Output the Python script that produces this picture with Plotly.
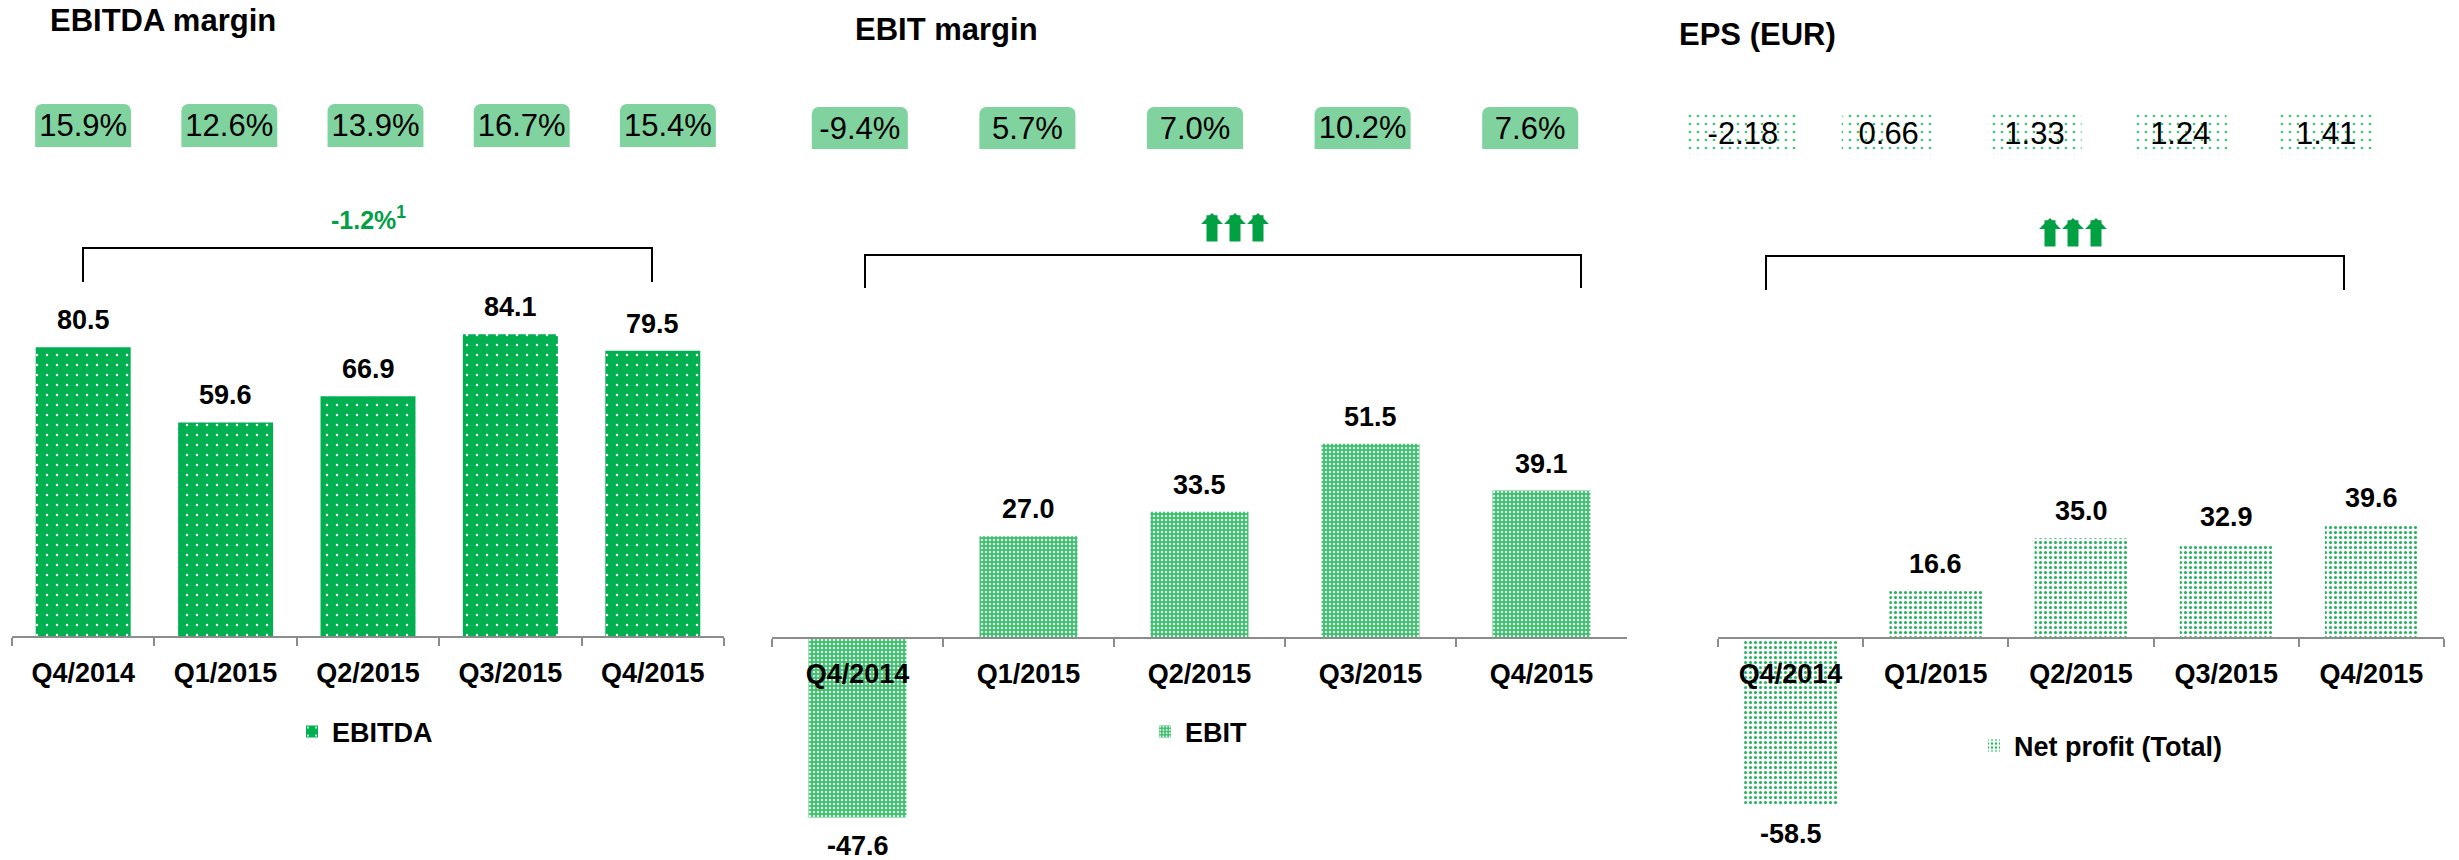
import plotly.graph_objects as go

# ---------------- data ----------------
quarters = ["Q4/2014", "Q1/2015", "Q2/2015", "Q3/2015", "Q4/2015"]
ebitda = [80.5, 59.6, 66.9, 84.1, 79.5]
ebit = [-47.6, 27.0, 33.5, 51.5, 39.1]
net_profit = [-58.5, 16.6, 35.0, 32.9, 39.6]
ebitda_margin = ["15.9%", "12.6%", "13.9%", "16.7%", "15.4%"]
ebit_margin = ["-9.4%", "5.7%", "7.0%", "10.2%", "7.6%"]
eps = ["-2.18", "0.66", "1.33", "1.24", "1.41"]
titles = ["EBITDA margin", "EBIT margin", "EPS (EUR)"]
series_names = ["EBITDA", "EBIT", "Net profit (Total)"]
ebitda_change = "-1.2%<sup>1</sup>"

# ---------------- geometry / style ----------------
W, H = 2459, 860
FONT = "Liberation Sans, Arial, Helvetica, sans-serif"
GREEN_TXT = "#00A043"
AXIS_GREY = "#8C8C8C"
BOX_GREEN = "#80D29F"


def PX(x):
    return x / W


def PY(y):
    return 1 - y / H


panels = [
    dict(values=ebitda, name=series_names[0], title=titles[0], labels=ebitda_margin,
         x0=12, x1=724, zero=637, scale=3.60, top=170, bottom=700, barw=0.667,
         pattern=dict(shape=".", bgcolor="#00B050", fgcolor="#FFFFFF", size=10, solidity=0.05, fgopacity=1),
         color="#00B050",
         box=dict(x0=10, x1=741, y0=104, y1=147, w=[0.656] * 5, pattern=None),
         title_pos=(48, 21), legend_x=292, legend_y=732,
         bracket=(83, 652, 248, 282), arrows=None, change=(368, 218)),
    dict(values=ebit, name=series_names[1], title=titles[1], labels=ebit_margin,
         x0=772, x1=1627, zero=638, scale=3.77, top=170, bottom=860, barw=0.573,
         pattern=dict(shape=".", bgcolor="#3CBF6E", fgcolor="#FFFFFF", size=4, solidity=0.3, fgopacity=0.85),
         color="#3CBF6E",
         box=dict(x0=776, x1=1614, y0=107, y1=149, w=[0.573] * 5, pattern=None),
         title_pos=(853, 29), legend_x=1145, legend_y=732,
         bracket=(865, 1581, 255, 288), arrows=(1235, 213, 243), change=None),
    dict(values=net_profit, name=series_names[2], title=titles[2], labels=eps,
         x0=1718, x1=2444, zero=638, scale=2.85, top=170, bottom=860, barw=0.64,
         pattern=dict(shape=".", bgcolor="#FFFFFF", fgcolor="#22B45E", size=5, solidity=0.3, fgopacity=1),
         color="#FFFFFF",
         box=dict(x0=1670, x1=2399, y0=112, y1=155, w=[0.78, 0.645, 0.645, 0.645, 0.645],
                  pattern=dict(shape=".", bgcolor="#FFFFFF", fgcolor="#3CC475", size=8, solidity=0.09, fgopacity=1)),
         title_pos=(1677, 35), legend_x=1974, legend_y=746,
         bracket=(1766, 2344, 256, 290), arrows=(2073, 218, 248), change=None),
]

fig = go.Figure()
layout = dict(
    width=W, height=H, autosize=False,
    margin=dict(l=0, r=0, t=0, b=0, pad=0),
    paper_bgcolor="white", plot_bgcolor="white",
    hovermode=False, barmode="overlay",
    font=dict(family=FONT, color="black"),
)
annotations = []
shapes = []

for i, p in enumerate(panels):
    n = i + 1
    nb = i + 4
    xa = "x" if n == 1 else f"x{n}"
    ya = "y" if n == 1 else f"y{n}"
    xb, yb = f"x{nb}", f"y{nb}"
    legend_id = "legend" if n == 1 else f"legend{n}"

    # main bars
    fig.add_trace(go.Bar(
        x=quarters, y=p["values"], name=p["name"], xaxis=xa, yaxis=ya,
        width=p["barw"], legend=legend_id, showlegend=True,
        marker=dict(color=p["color"], line=dict(width=0), pattern=p["pattern"]),
    ))
    ymax = (p["zero"] - p["top"]) / p["scale"]
    ymin = -(p["bottom"] - p["zero"]) / p["scale"]
    layout[f"xaxis{n if n > 1 else ''}"] = dict(
        domain=[PX(p["x0"]), PX(p["x1"])], type="category", range=[-0.5, 4.5],
        anchor="free", position=PY(p["zero"]),
        showline=True, linecolor=AXIS_GREY, linewidth=2,
        ticks="outside", tickson="boundaries", ticklen=8, tickwidth=2, tickcolor=AXIS_GREY,
        tickfont=dict(family=FONT, size=27, color="black", weight="bold"),
        ticklabelstandoff=12, showgrid=False, zeroline=False, fixedrange=True,
    )
    layout[f"yaxis{n if n > 1 else ''}"] = dict(
        domain=[PY(p["bottom"]), PY(p["top"])], range=[ymin, ymax],
        visible=False, showgrid=False, zeroline=False, fixedrange=True, anchor=xa,
    )

    # value labels
    for q, v in zip(quarters, p["values"]):
        annotations.append(dict(
            x=q, y=v, xref=xa, yref=ya, text=f"{v:.1f}", showarrow=False,
            yshift=27 if v >= 0 else -29, xanchor="center", yanchor="middle",
            font=dict(family=FONT, size=27, color="black", weight="bold"),
        ))

    # margin / EPS boxes row
    b = p["box"]
    bmarker = dict(color=BOX_GREEN, line=dict(width=0), cornerradius=7)
    if b["pattern"] is not None:
        bmarker = dict(color="#FFFFFF", line=dict(width=0), cornerradius=7, pattern=b["pattern"])
    fig.add_trace(go.Bar(
        x=quarters, y=[1] * len(quarters), xaxis=xb, yaxis=yb, width=b["w"],
        text=p["labels"], textposition="inside", insidetextanchor="middle",
        constraintext="none", textangle=0,
        textfont=dict(family=FONT, size=31, color="black"),
        marker=bmarker, showlegend=False, hoverinfo="skip",
    ))
    layout[f"xaxis{nb}"] = dict(domain=[PX(b["x0"]), PX(b["x1"])], type="category",
                                range=[-0.5, 4.5], visible=False, anchor=yb, fixedrange=True)
    layout[f"yaxis{nb}"] = dict(domain=[PY(b["y1"]), PY(b["y0"])], range=[0, 1],
                                visible=False, anchor=xb, fixedrange=True)

    # titles
    tx, ty = p["title_pos"]
    annotations.append(dict(
        x=PX(tx), y=PY(ty), xref="paper", yref="paper", text=p["title"], showarrow=False,
        xanchor="left", yanchor="middle",
        font=dict(family=FONT, size=31, color="black", weight="bold"),
    ))

    # bracket
    bx0, bx1, by0, by1 = p["bracket"]
    shapes.append(dict(
        type="path", xref="paper", yref="paper",
        path=f"M {PX(bx0)},{PY(by1)} L {PX(bx0)},{PY(by0)} L {PX(bx1)},{PY(by0)} L {PX(bx1)},{PY(by1)}",
        line=dict(color="black", width=2),
    ))

    # growth arrows
    if p["arrows"] is not None:
        cx, tip, tail = p["arrows"]
        for k in (-1, 0, 1):
            annotations.append(dict(
                x=PX(cx + 23 * k), y=PY(tip), xref="paper", yref="paper", text="",
                showarrow=True, ax=0, ay=tail - tip, axref="pixel", ayref="pixel",
                arrowhead=1, arrowsize=0.33, arrowwidth=11, arrowcolor=GREEN_TXT, standoff=0,
            ))
    if p["change"] is not None:
        cx, cy = p["change"]
        annotations.append(dict(
            x=PX(cx), y=PY(cy), xref="paper", yref="paper", text=ebitda_change, showarrow=False,
            xanchor="center", yanchor="middle",
            font=dict(family=FONT, size=25, color=GREEN_TXT, weight="bold"),
        ))

    # legend
    layout[legend_id] = dict(
        x=PX(p["legend_x"]), y=PY(p["legend_y"]), xanchor="left", yanchor="middle",
        orientation="h", bgcolor="rgba(0,0,0,0)", borderwidth=0,
        font=dict(family=FONT, size=27, color="black", weight="bold"),
    )

layout["annotations"] = annotations
layout["shapes"] = shapes
fig.update_layout(**layout)

fig.write_html(
    "out.html",
    config={"displayModeBar": False},
    post_script="document.body.style.margin='0';document.body.style.overflow='hidden';",
)
